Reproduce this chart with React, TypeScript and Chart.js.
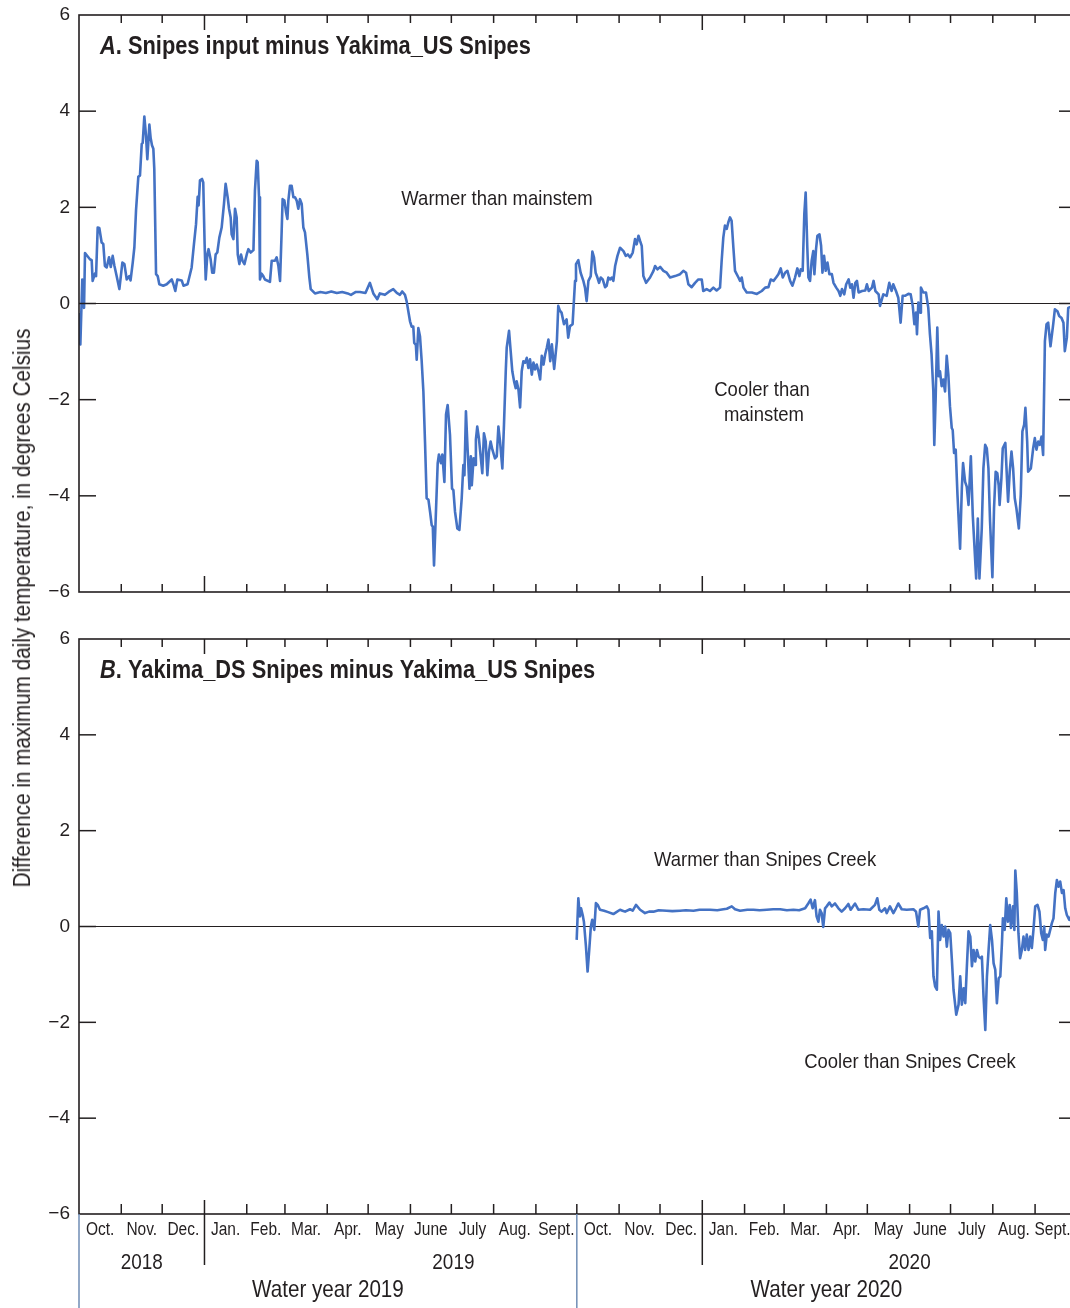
import React, { useEffect, useRef } from "react";
import { Chart, registerables } from "chart.js";

Chart.register(...registerables);

const INK = "#231f20";
const LINE_BLUE = "#4472c4";
const WATER_YEAR_RULE = "#6f8db5";
const FONT = '"Liberation Sans", Arial, sans-serif';

// Day offsets are counted from 1 October 2018 (start of water year 2019).
// [day, difference in degrees Celsius]
const snipesInputMinusUS: [number, number][] = [
  [0, -0.2], [1, -0.85], [2.4, 0.5], [3.7, -0.09], [4.4, 1.05], [8, 0.92], [9.3, 0.9], [10, 0.47],
  [11.7, 0.62], [12.5, 0.57], [13.7, 1.58], [14.9, 1.57], [16.6, 1.27], [17.8, 1.24], [19, 0.78],
  [20.3, 0.75], [22, 0.96], [23.3, 0.76], [24.7, 0.99], [26, 0.78], [27.6, 0.57], [29.6, 0.3],
  [31.8, 0.85], [33.3, 0.82], [35, 0.5], [36.9, 0.57], [37.8, 0.48], [39.4, 0.85], [40.6, 1.17],
  [41.8, 1.93], [43.5, 2.64], [44.7, 2.66], [46, 3.32], [46.7, 3.34], [47.9, 3.89], [49.1, 3.5],
  [50.1, 3.0], [51.6, 3.72], [52.5, 3.45], [53.5, 3.29], [54.5, 3.22], [55.2, 2.8], [56.5, 0.61],
  [57.7, 0.57], [58.9, 0.4], [61.8, 0.37], [64.3, 0.4], [68, 0.5], [69.2, 0.4], [70.6, 0.26],
  [72.1, 0.5], [75.3, 0.48], [76.6, 0.37], [79.6, 0.4], [82.6, 0.75], [84.3, 1.24], [85.8, 1.65],
  [87, 2.22], [87.7, 2.04], [88.7, 2.56], [90.2, 2.59], [91.1, 2.52], [92.1, 1.24], [92.9, 0.5],
  [94.1, 1.02], [95, 1.13], [96.5, 0.92], [97.7, 0.64], [98.9, 0.64], [100.2, 1.02], [101.4, 1.06],
  [102.9, 1.37], [104.6, 1.58], [106.3, 2.07], [107.5, 2.49], [109, 2.21], [110, 1.97], [111.2, 1.79],
  [111.9, 1.44], [113.2, 1.34], [114.4, 1.97], [115.6, 1.79], [116.4, 1.02], [117.6, 0.82],
  [118.8, 1.02], [120, 0.88], [121.3, 0.82], [123, 1.02], [124.2, 1.13], [125.9, 1.06], [127.9, 1.11],
  [129, 2.35], [130.3, 2.97], [131, 2.94], [132, 2.21], [132.7, 0.5], [133.9, 0.62], [135.1, 0.57],
  [136.3, 0.5], [140, 0.45], [141.3, 0.89], [143.7, 0.89], [144.9, 0.96], [146.2, 0.78], [147.4, 0.47],
  [148.6, 1.51], [149.3, 2.17], [150.6, 2.14], [151.8, 1.9], [152.8, 1.76], [153.5, 2.14], [154.7, 2.45],
  [155.9, 2.45], [157.2, 2.21], [158.4, 2.21], [159.6, 2.14], [160.8, 1.97], [162, 2.17], [163.3, 2.07],
  [164.5, 1.58], [165.7, 1.48], [167.4, 1.02], [168.9, 0.54], [169.9, 0.3], [173, 0.21], [177, 0.24],
  [181, 0.22], [185, 0.25], [189, 0.22], [193, 0.24], [197, 0.21], [199.4, 0.18], [203, 0.24],
  [206, 0.24], [210, 0.22], [213.3, 0.43], [215.8, 0.21], [218.7, 0.09], [220.6, 0.21], [224.3, 0.18],
  [227, 0.24], [230.4, 0.3], [233, 0.22], [235.3, 0.18], [237, 0.25], [239, 0.18], [240.2, 0.05],
  [242.7, -0.37], [243.9, -0.48], [245.1, -0.48], [245.8, -0.82], [247, -0.86], [247.6, -1.17],
  [248.8, -0.51], [250, -0.68], [251.2, -1.17], [252.5, -1.83], [253.7, -2.88], [254.9, -4.05],
  [256.2, -4.08], [257.4, -4.33], [258.6, -4.61], [259.4, -4.64], [260.3, -5.45], [261.8, -4.26],
  [263, -3.32], [263.9, -3.14], [265.4, -3.32], [266.4, -3.14], [267.9, -3.71], [269.1, -2.31],
  [270.3, -2.11], [272, -2.73], [273.5, -3.85], [274.5, -3.88], [275.7, -4.33], [277.4, -4.68],
  [278.9, -4.71], [280.6, -4.05], [281.8, -3.36], [282.6, -3.57], [283.7, -2.24], [284.9, -3.01],
  [286.3, -3.85], [287.3, -3.18], [288, -3.78], [289.3, -3.22], [290.5, -3.36], [291, -2.83],
  [292, -2.56], [293.2, -2.8], [294.5, -3.18], [295.7, -3.53], [296.9, -2.7], [298.2, -2.87],
  [299.4, -3.57], [300.6, -3.08], [301.8, -2.87], [303.1, -3.04], [305, -3.22], [306.3, -3.18],
  [307.5, -2.56], [308.7, -2.87], [310.4, -3.43], [311.6, -2.52], [312.9, -1.41], [313.6, -0.92],
  [315.3, -0.57], [316.5, -0.99], [317.7, -1.41], [319, -1.62], [320.2, -1.76], [320.9, -1.62],
  [322.2, -1.79], [323.4, -2.16], [324.6, -1.41], [325.8, -1.2], [327.1, -1.23], [328.3, -1.13],
  [329.5, -1.34], [330.7, -1.16], [332, -1.48], [333.2, -1.23], [334.4, -1.37], [335.6, -1.27],
  [336.9, -1.41], [338.1, -1.58], [339.3, -1.09], [340.6, -1.27], [341.8, -1.06], [343, -0.92],
  [344.2, -0.75], [345.5, -1.2], [346.7, -0.85], [348.4, -1.36], [350.4, -0.78], [351.4, -0.05],
  [352.6, -0.15], [353.8, -0.19], [355.6, -0.43], [357.5, -0.33], [358.7, -0.71], [360, -0.47],
  [361.9, -0.43], [363.7, 0.47], [364.4, 0.82], [366.1, 0.9], [367.8, 0.64], [369.8, 0.47],
  [371, 0.33], [372.2, 0.05], [373.5, 0.47], [375.2, 0.57], [376.4, 1.08], [377.6, 0.96],
  [378.8, 0.64], [380.1, 0.54], [381.3, 0.43], [382.5, 0.54], [384, 0.5], [385.7, 0.34], [386.9, 0.37],
  [388.1, 0.54], [389.4, 0.5], [390.6, 0.54], [391.8, 0.47], [393.1, 0.78], [394.8, 0.99], [396.7, 1.16],
  [399.2, 1.09], [400.9, 0.99], [402.4, 1.02], [404.1, 0.96], [406, 1.06], [407.7, 1.34], [408.9, 1.23],
  [410.2, 1.41], [411.4, 1.3], [412.6, 1.2], [413.8, 0.57], [415.8, 0.43], [418.7, 0.54], [421.2, 0.68],
  [422.4, 0.78], [424.1, 0.71], [426.1, 0.76], [428.5, 0.68], [430.9, 0.64], [433.4, 0.54], [437, 0.57],
  [440.7, 0.61], [443.1, 0.68], [445.1, 0.64], [446.8, 0.4], [449.2, 0.34], [451.7, 0.43], [454.1, 0.5],
  [456.6, 0.5], [457.7, 0.26], [460.2, 0.3], [462.6, 0.26], [465.1, 0.33], [467.5, 0.27], [470, 0.33],
  [471.2, 0.89], [472.4, 1.37], [473.6, 1.62], [474.9, 1.55], [476.1, 1.69], [477.3, 1.79], [478.5, 1.72],
  [479.8, 1.16], [481, 0.68], [483.5, 0.54], [484.7, 0.47], [485.9, 0.54], [487.2, 0.33], [489.6, 0.23],
  [493.3, 0.23], [497, 0.2], [500.6, 0.26], [503.1, 0.33], [505.5, 0.34], [507.2, 0.5], [509.2, 0.47],
  [511.1, 0.54], [512.8, 0.61], [514.5, 0.73], [516, 0.54], [517.7, 0.64], [519.4, 0.68], [521.4, 0.47],
  [523.1, 0.37], [525, 0.54], [526.7, 0.73], [528.2, 0.57], [529.2, 0.71], [530.6, 0.68], [531.8, 1.86],
  [532.8, 2.31], [534, 1.16], [534.8, 0.54], [536, 0.47], [537.2, 0.89], [538.4, 1.09], [539.2, 0.61],
  [540.4, 1.13], [541.4, 1.41], [542.9, 1.44], [544.1, 1.2], [545.1, 0.64], [546.3, 0.99], [547.5, 0.68],
  [548.8, 0.85], [550.2, 0.61], [552, 0.61], [553.2, 0.43], [555.2, 0.33], [556.9, 0.26], [558.2, 0.16],
  [559.4, 0.3], [561.1, 0.19], [562.5, 0.4], [564.3, 0.5], [565.5, 0.33], [566.7, 0.4], [567.9, 0.12],
  [569.2, 0.43], [570.4, 0.47], [571.6, 0.23], [574.1, 0.26], [576.5, 0.27], [577.7, 0.4], [579, 0.26],
  [581.4, 0.33], [582.6, 0.47], [583.9, 0.26], [586.3, 0.19], [587.3, -0.05], [589.7, 0.19],
  [592.2, 0.16], [594.1, 0.43], [595.8, 0.26], [597, 0.4], [599, 0.26], [600.7, 0.12], [602.4, -0.4],
  [603.9, 0.16], [605.6, 0.16], [608.1, 0.2], [609.8, 0.19], [611.3, -0.05], [612.5, -0.43],
  [613.7, -0.19], [614.4, -0.64], [615.4, 0.02], [616.7, -0.19], [617.3, 0.33], [619, 0.23], [621, 0.23],
  [622.7, -0.09], [623.9, -0.64], [625.1, -1.06], [626.4, -1.83], [627.1, -2.94], [628.1, -1.97],
  [629.3, -0.5], [630.3, -1.51], [631.3, -1.41], [632.5, -1.72], [633.7, -1.58], [635, -1.83],
  [636.2, -1.09], [637.4, -1.48], [638.6, -2.14], [639.9, -2.59], [640.6, -2.63], [641.6, -3.11],
  [642.8, -3.04], [644.1, -3.98], [646, -5.1], [647.3, -3.84], [648.2, -3.32], [649.7, -3.71],
  [650.9, -3.81], [652.2, -4.19], [653.9, -3.18], [655.3, -4.4], [657.8, -5.72], [659, -4.47],
  [660.2, -5.72], [661.9, -4.68], [663.1, -3.43], [664.4, -2.94], [665.6, -3.01], [666.8, -3.43],
  [668, -4.54], [669.7, -5.69], [670.9, -4.26], [672.1, -3.5], [673.3, -3.53], [674.3, -3.78],
  [675, -4.19], [676.3, -3.64], [677.3, -3.01], [679.2, -2.9], [680.5, -3.71], [681.2, -4.12],
  [682.4, -3.5], [683.7, -3.08], [684.9, -3.43], [686.1, -4.05], [687.3, -4.26], [689.1, -4.68],
  [690.5, -3.98], [691.7, -2.66], [693, -2.52], [693.9, -2.17], [695.2, -2.87], [695.9, -3.5],
  [697.9, -3.43], [699.6, -3.01], [700.8, -2.8], [702, -3.04], [703.3, -2.87], [704.5, -2.94],
  [705.7, -2.77], [706.9, -3.15], [708.2, -0.78], [709.4, -0.43], [710.6, -0.4], [712.3, -0.89],
  [714.3, -0.43], [715.5, -0.12], [717.4, -0.16], [718.7, -0.26], [720.4, -0.3], [721.8, -0.4],
  [722.8, -0.99], [724.3, -0.71], [725.3, -0.09], [727, -0.07], [729, -0.05],
];

// [day, difference in degrees Celsius]
const dsMinusUS: [number, number][] = [
  [364.9, -0.28], [366.1, 0.59], [367.3, 0.21], [368.1, 0.38], [369.3, 0.24], [370.2, 0.1],
  [371.7, -0.42], [372.9, -0.94], [374.1, -0.49], [375.3, 0], [376.3, 0.14], [377.8, -0.07],
  [379, 0.49], [380.3, 0.45], [382, 0.35], [385, 0.33], [388, 0.3], [391.8, 0.26], [394, 0.3],
  [396.7, 0.35], [398.5, 0.33], [400.4, 0.31], [404, 0.36], [406, 0.33], [408.4, 0.45], [411.4, 0.35],
  [415, 0.28], [418, 0.31], [421.2, 0.31], [425, 0.34], [430.9, 0.33], [435, 0.32], [440.7, 0.33],
  [445, 0.34], [450.5, 0.33], [455, 0.35], [462.7, 0.35], [468, 0.34], [472.5, 0.36], [475, 0.37],
  [478.6, 0.42], [481, 0.36], [484.7, 0.33], [490, 0.35], [494.5, 0.35], [499, 0.34], [504.3, 0.35],
  [509, 0.36], [514.1, 0.36], [519, 0.34], [523.8, 0.35], [528, 0.34], [532.4, 0.38], [534.7, 0.48],
  [536.4, 0.56], [537.9, 0.38], [539.6, 0.55], [540.8, 0.21], [542.1, 0.1], [543.3, 0.35],
  [544.5, 0.28], [545.7, -0.01], [547, 0.38], [548.2, 0.42], [550.2, 0.5], [551.9, 0.42],
  [554.3, 0.48], [556.8, 0.38], [559.2, 0.31], [561.7, 0.38], [564.1, 0.47], [565.8, 0.35],
  [569, 0.48], [571.4, 0.35], [575.1, 0.36], [580, 0.35], [583.6, 0.45], [585.3, 0.59], [586.8, 0.35],
  [588.5, 0.31], [591, 0.38], [592.2, 0.28], [594.6, 0.42], [597.1, 0.28], [599, 0.38], [600.7, 0.48],
  [603.2, 0.36], [606.9, 0.35], [611.8, 0.36], [613.7, 0.31], [615.4, 0], [616.7, 0.35], [619.2, 0.38],
  [621.6, 0.42], [622.8, 0.35], [624.1, -0.24], [625.3, -0.1], [626.5, -1.04], [627.7, -1.25],
  [629, -1.32], [630.2, 0.31], [631.4, -0.28], [632.6, 0.03], [633.9, -0.21], [635.1, 0],
  [636.3, -0.42], [637.5, -0.07], [638.8, -0.14], [640, -0.7], [641.2, -1.32], [643.2, -1.84],
  [644.9, -1.63], [646.1, -1.04], [647.3, -1.63], [648.6, -1.29], [649.8, -1.6], [651, -0.83],
  [652.2, -0.1], [653.5, -0.21], [654.7, -0.83], [655.9, -0.49], [657.1, -0.73], [658.4, -0.49],
  [659.6, -0.63], [660.8, -0.66], [662, -0.63], [663.2, -1.46], [664.5, -2.16], [665.7, -1.04],
  [666.9, -0.49], [668.1, 0.03], [669.4, -0.28], [670.6, -0.77], [671.8, -0.9], [673, -1.6],
  [674.3, -1.08], [675.5, -1.04], [676.7, -0.35], [677.4, 0.17], [678.7, -0.07], [679.9, 0.59],
  [681.1, 0.1], [682.4, 0.45], [683.3, -0.03], [684.8, 0.42], [685.8, -0.07], [686.5, 1.17],
  [687.6, 0.7], [688.8, -0.14], [690, -0.66], [691.3, -0.49], [692.5, -0.21], [693.7, -0.49],
  [694.9, -0.17], [696.2, -0.49], [697.4, -0.21], [698.6, -0.45], [699.8, -0.07], [701.1, 0.42],
  [702.8, 0.45], [704.2, 0.31], [705.5, -0.14], [706.7, -0.28], [707.7, 0], [708.4, -0.49],
  [709.6, -0.17], [710.9, -0.21], [712.1, -0.07], [713.3, 0.07], [714.5, 0.17], [715.8, 0.7],
  [717, 0.97], [718.2, 0.83], [719.4, 0.94], [720.7, 0.7], [721.9, 0.76], [723.1, 0.38], [724.3, 0.24],
  [726.1, 0.14], [728, 0.25], [730, 0.2],
];

// Calendar axis: first day of every month from Oct. 2018 to Oct. 2020
const monthStartDays = [0, 31, 61, 92, 123, 151, 182, 212, 243, 273, 304, 335, 365, 396, 426, 457, 488, 517, 548, 578, 609, 639, 670, 701, 731];
const monthLabels = [
  "Oct.", "Nov.", "Dec.", "Jan.", "Feb.", "Mar.", "Apr.", "May", "June", "July", "Aug.", "Sept.",
  "Oct.", "Nov.", "Dec.", "Jan.", "Feb.", "Mar.", "Apr.", "May", "June", "July", "Aug.", "Sept.",
];
const januaryDays = [92, 457];
const yearLabels = ["2018", "2019", "2020"];
const yearLabelDays = [46, 274.5, 609];
const waterYearStartDays = [0, 365, 731];
const waterYearLabels = ["Water year 2019", "Water year 2020"];
const yTickValues = [-6, -4, -2, 0, 2, 4, 6];

type Note = { text: string; day: number; value: number };
type PanelSpec = {
  letter: string;
  title: string;
  notes: Note[];
  calendarAxis: boolean;
};

const panelA: PanelSpec = {
  letter: "A",
  title: ". Snipes input minus Yakima_US Snipes",
  notes: [
    { text: "Warmer than mainstem", day: 306.5, value: 2.17 },
    { text: "Cooler than", day: 500.8, value: -1.8 },
    { text: "mainstem", day: 502.2, value: -2.32 },
  ],
  calendarAxis: false,
};

const panelB: PanelSpec = {
  letter: "B",
  title: ". Yakima_DS Snipes minus Yakima_US Snipes",
  notes: [
    { text: "Warmer than Snipes Creek", day: 503, value: 1.39 },
    { text: "Cooler than Snipes Creek", day: 609.3, value: -2.83 },
  ],
  calendarAxis: true,
};

type TextOpts = { size: number; bold?: boolean; italic?: boolean; align?: CanvasTextAlign; sx?: number; color?: string };

function fontString(o: TextOpts) {
  return `${o.italic ? "italic " : ""}${o.bold ? "bold " : ""}${o.size}px ${FONT}`;
}

// Condensed lettering: the face is narrowed horizontally around its anchor point.
function drawText(ctx: CanvasRenderingContext2D, text: string, x: number, y: number, o: TextOpts) {
  ctx.save();
  ctx.font = fontString(o);
  ctx.fillStyle = o.color ?? INK;
  ctx.textAlign = o.align ?? "center";
  ctx.textBaseline = "middle";
  ctx.translate(x, y);
  ctx.scale(o.sx ?? 0.88, 1);
  ctx.fillText(text, 0, 0);
  ctx.restore();
}

function line(ctx: CanvasRenderingContext2D, x1: number, y1: number, x2: number, y2: number, color = INK, width = 1.5) {
  ctx.save();
  ctx.strokeStyle = color;
  ctx.lineWidth = width;
  ctx.beginPath();
  ctx.moveTo(x1, y1);
  ctx.lineTo(x2, y2);
  ctx.stroke();
  ctx.restore();
}

function panelPlugin(spec: PanelSpec) {
  return {
    id: "panelDecor" + spec.letter,
    beforeDatasetsDraw(chart: any) {
      const { ctx, chartArea: a, scales } = chart;
      const y0 = scales.y.getPixelForValue(0);
      line(ctx, a.left, y0, a.right, y0, INK, 1.2);
    },
    afterDraw(chart: any) {
      const { ctx, chartArea: a, scales } = chart;
      const xs = scales.x;
      const ys = scales.y;

      // frame
      ctx.save();
      ctx.strokeStyle = INK;
      ctx.lineWidth = 1.6;
      ctx.strokeRect(a.left, a.top, a.right - a.left, a.bottom - a.top);
      ctx.restore();

      // inward month ticks on top and bottom edges
      monthStartDays.forEach((d) => {
        if (d <= 0 || d >= 731) return;
        const px = xs.getPixelForValue(d);
        const isJan = januaryDays.includes(d);
        line(ctx, px, a.top, px, a.top + (isJan ? 15 : 8));
        if (spec.calendarAxis) {
          if (isJan) line(ctx, px, a.bottom - 14, px, a.bottom + 51);
          else line(ctx, px, a.bottom - 10, px, a.bottom);
        } else {
          line(ctx, px, a.bottom - (isJan ? 16 : 8), px, a.bottom);
        }
      });

      // inward value ticks on left and right edges
      yTickValues.forEach((v) => {
        if (v === -6 || v === 6) return;
        const py = ys.getPixelForValue(v);
        line(ctx, a.left, py, a.left + 17, py);
        line(ctx, a.right - 17, py, a.right, py);
      });

      // panel heading: italic letter, then bold text
      const titleSize = 26;
      const titleSx = 0.84;
      const tx = xs.getPixelForValue(15.4);
      const ty = ys.getPixelForValue(5.34);
      ctx.save();
      ctx.font = fontString({ size: titleSize, bold: true, italic: true });
      const letterW = ctx.measureText(spec.letter).width * titleSx;
      ctx.restore();
      drawText(ctx, spec.letter, tx, ty, { size: titleSize, bold: true, italic: true, align: "left", sx: titleSx });
      drawText(ctx, spec.title, tx + letterW, ty, { size: titleSize, bold: true, align: "left", sx: titleSx });

      spec.notes.forEach((n) => {
        drawText(ctx, n.text, xs.getPixelForValue(n.day), ys.getPixelForValue(n.value), { size: 21, sx: 0.88 });
      });

      if (spec.calendarAxis) {
        for (let i = 0; i < monthLabels.length; i++) {
          const cx = (xs.getPixelForValue(monthStartDays[i]) + xs.getPixelForValue(monthStartDays[i + 1])) / 2;
          const last = i === monthLabels.length - 1;
          drawText(ctx, monthLabels[i], last ? cx - 3 : cx, a.bottom + 16, { size: 18, sx: 0.86 });
        }
        yearLabels.forEach((t, i) => {
          drawText(ctx, t, xs.getPixelForValue(yearLabelDays[i]), a.bottom + 49, { size: 22, sx: 0.86 });
        });
        waterYearStartDays.forEach((d) => {
          const px = xs.getPixelForValue(d);
          line(ctx, px, a.bottom, px, a.bottom + 94, WATER_YEAR_RULE, 1.5);
        });
        waterYearLabels.forEach((t, i) => {
          const cx = (xs.getPixelForValue(waterYearStartDays[i]) + xs.getPixelForValue(waterYearStartDays[i + 1])) / 2;
          drawText(ctx, t, cx, a.bottom + 76, { size: 24, sx: 0.86 });
        });
      }
    },
  };
}

function makeConfig(series: [number, number][], spec: PanelSpec, padding: { top: number; bottom: number }) {
  return {
    type: "line" as const,
    data: {
      datasets: [
        {
          data: series.map(([d, v]) => ({ x: d, y: v })),
          borderColor: LINE_BLUE,
          borderWidth: 2.6,
          borderJoinStyle: "round" as const,
          pointRadius: 0,
          tension: 0,
          fill: false,
        },
      ],
    },
    options: {
      responsive: false,
      animation: false as const,
      layout: { padding: { top: padding.top, bottom: padding.bottom, left: 0, right: 4 } },
      plugins: { legend: { display: false }, tooltip: { enabled: false }, title: { display: false } },
      scales: {
        x: { type: "linear" as const, min: 0, max: 731, display: false },
        y: {
          type: "linear" as const,
          min: -6,
          max: 6,
          afterFit: (s: any) => {
            s.width = 79;
          },
          afterBuildTicks: (s: any) => {
            s.ticks = yTickValues.map((v) => ({ value: v }));
          },
          grid: { display: false, drawTicks: false },
          border: { display: false },
          ticks: {
            padding: 9,
            color: INK,
            font: { family: FONT, size: 19 },
            callback: (v: any) => (Number(v) < 0 ? "\u2212" + Math.abs(Number(v)) : String(v)),
          },
        },
      },
    },
    plugins: [panelPlugin(spec)],
  };
}

// Panel A canvas runs from y = -40 to 620 on the page, panel B from 600 to 1308.
export default function App() {
  const refA = useRef<HTMLCanvasElement | null>(null);
  const refB = useRef<HTMLCanvasElement | null>(null);

  useEffect(() => {
    const charts: Chart[] = [];
    if (refA.current) charts.push(new Chart(refA.current, makeConfig(snipesInputMinusUS, panelA, { top: 55, bottom: 28 }) as any));
    if (refB.current) charts.push(new Chart(refB.current, makeConfig(dsMinusUS, panelB, { top: 39, bottom: 94 }) as any));
    return () => charts.forEach((c) => c.destroy());
  }, []);

  return (
    <div style={{ position: "absolute", left: 0, top: 0, width: 1070, height: 1308, overflow: "hidden", background: "#ffffff" }}>
      <canvas ref={refA} width={1080} height={660} style={{ position: "absolute", left: 0, top: -40 }} />
      <canvas ref={refB} width={1080} height={708} style={{ position: "absolute", left: 0, top: 600 }} />
      <div
        style={{
          position: "absolute",
          left: 22,
          top: 608,
          transform: "translate(-50%, -50%) rotate(-90deg) scaleX(0.9)",
          whiteSpace: "nowrap",
          font: `23px ${FONT}`,
          lineHeight: "26px",
          color: INK,
        }}
      >
        Difference in maximum daily temperature, in degrees Celsius
      </div>
    </div>
  );
}
